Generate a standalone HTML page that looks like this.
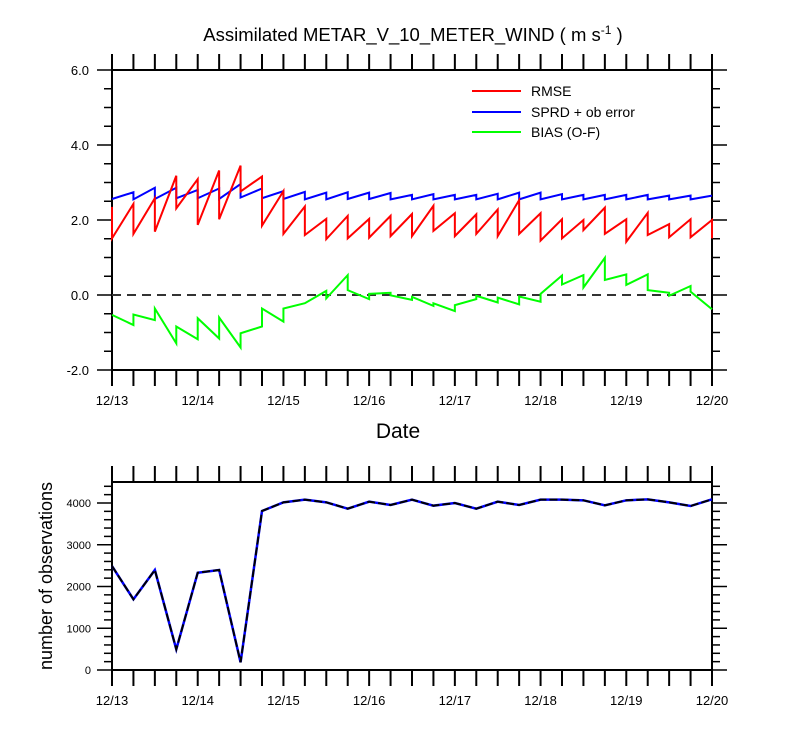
<!DOCTYPE html>
<html><head><meta charset="utf-8"><style>
body{margin:0;background:#fff;font-family:"Liberation Sans",Arial,sans-serif;}
svg text{font-family:"Liberation Sans",Arial,sans-serif;}
</style></head><body>
<svg id="chart" width="800" height="750" xmlns="http://www.w3.org/2000/svg">
<rect width="800" height="750" fill="#fff"/>
<text x="413" y="41" font-size="18.5" text-anchor="middle">Assimilated METAR_V_10_METER_WIND ( m s<tspan font-size="12" dy="-7">-1</tspan><tspan dy="7"> )</tspan></text>
<text x="398" y="438" font-size="21" text-anchor="middle">Date</text>
<text transform="translate(52,576) rotate(-90)" font-size="18" text-anchor="middle">number of observations</text>
<g id="topPanel"></g>
<g id="botPanel"></g>
</svg>
<script>
const dateLabels = ["12/13","12/14","12/15","12/16","12/17","12/18","12/19","12/20"];
const topTicks = ["-2.0","0.0","2.0","4.0","6.0"];
const botTicks = ["0","1000","2000","3000","4000"];
const rmsePrior = [2.35,2.43,2.58,3.18,3.09,3.32,3.45,3.16,2.77,2.36,2.03,2.11,2.03,2.11,2.16,2.38,2.18,2.15,2.28,2.53,2.18,2.02,2.0,2.33,2.02,2.19,1.89,2.02,2.0];
const rmsePost  = [1.51,1.63,1.69,2.31,1.87,2.02,2.76,1.85,1.63,1.6,1.49,1.51,1.53,1.57,1.57,1.71,1.57,1.63,1.57,1.63,1.45,1.51,1.73,1.63,1.42,1.6,1.54,1.54,1.51];
const sprdPrior = [2.56,2.74,2.86,2.86,2.8,2.84,2.96,2.84,2.77,2.75,2.73,2.74,2.73,2.72,2.67,2.69,2.67,2.67,2.7,2.73,2.73,2.69,2.67,2.67,2.67,2.67,2.65,2.65,2.65];
const sprdPost  = [2.56,2.55,2.56,2.58,2.58,2.56,2.6,2.58,2.56,2.55,2.55,2.56,2.56,2.55,2.55,2.55,2.55,2.55,2.55,2.55,2.55,2.55,2.55,2.55,2.55,2.55,2.55,2.55,2.65];
const biasPrior = [-0.53,-0.8,-0.67,-1.29,-1.18,-1.16,-1.4,-0.84,-0.71,-0.22,0.11,0.53,-0.11,0.06,-0.13,-0.29,-0.43,-0.11,-0.2,-0.25,-0.18,0.52,0.53,0.99,0.55,0.55,0.06,0.24,-0.38];
const biasPost  = [-0.53,-0.52,-0.36,-0.84,-0.62,-0.6,-1.02,-0.36,-0.36,-0.22,-0.09,0.13,0.03,-0.01,-0.05,-0.22,-0.27,-0.02,-0.07,-0.04,0.03,0.28,0.2,0.4,0.27,0.13,-0.02,0.09,-0.38];
const obsPossible = [2490,1693,2395,495,2330,2395,184,3808,4016,4080,4016,3864,4032,3952,4080,3936,4000,3864,4032,3952,4080,4080,4064,3944,4064,4088,4016,3928,4088];
const obsUsed     = [2490,1693,2395,495,2330,2395,184,3808,4016,4080,4016,3864,4032,3952,4080,3936,4000,3864,4032,3952,4080,4080,4064,3944,4064,4088,4016,3928,4088];

const NS="http://www.w3.org/2000/svg";
const X0=112,X1=712;
const xs=i=>X0+(X1-X0)*i/28;
const yT=v=>295-v*37.5;
const yB=v=>670-v*0.04175;
function el(parent,tag,attrs){const e=document.createElementNS(NS,tag);for(const k in attrs)e.setAttribute(k,attrs[k]);parent.appendChild(e);return e;}
function line(p,x1,y1,x2,y2,w){return el(p,'line',{x1,y1,x2,y2,stroke:'#000','stroke-width':w||1.5});}

function frame(g,t0,b0,name){
  const r=el(g,'rect',{x:X0,y:t0,width:X1-X0,height:b0-t0,fill:'none',stroke:'#000','stroke-width':2});
  
  
  for(let i=0;i<=28;i++){const x=xs(i);line(g,x,t0,x,t0-16,2);line(g,x,b0,x,b0+16,2);}
  dateLabels.forEach((d,k)=>{const t=el(g,'text',{x:xs(k*4),y:b0+35,'font-size':13,'text-anchor':'middle'});t.textContent=d;
    
    });
}
const topG=document.getElementById('topPanel'), botG=document.getElementById('botPanel');
frame(topG,70,370,'top-plot');
frame(botG,482,670,'bottom-plot');
for(let v=-2;v<=6.001;v+=0.5){const y=yT(v);const maj=Math.abs(v-Math.round(v/2)*2)<1e-6;
  line(topG,X0,y,X0-(maj?15:8),y,1.5);line(topG,X1,y,X1+(maj?15:8),y,1.5);}
topTicks.forEach(s=>{const t=el(topG,'text',{x:89,y:yT(parseFloat(s))+5,'font-size':13,'text-anchor':'end'});t.textContent=s;
  
  });
const zl=el(topG,'line',{x1:X0,y1:yT(0),x2:X1,y2:yT(0),stroke:'#333','stroke-width':2,'stroke-dasharray':'9,6'});


function saw(pr,po,color,name){let d='';for(let i=0;i<pr.length;i++){d+=(i?'L':'M')+xs(i)+' '+yT(pr[i])+'L'+xs(i)+' '+yT(po[i]);}
  const p=el(topG,'path',{d,fill:'none',stroke:color,'stroke-width':2});
  
  }
saw(sprdPrior,sprdPost,'#0000ff','sprd-line');
saw(rmsePrior,rmsePost,'#ff0000','rmse-line');
saw(biasPrior,biasPost,'#00ff00','bias-line');
[["RMSE","#ff0000",91],["SPRD + ob error","#0000ff",112],["BIAS (O-F)","#00ff00",132]].forEach(([s,c,y])=>{
  const g=el(topG,'g',{});
  
  
  el(g,'line',{x1:472,y1:y,x2:521,y2:y,stroke:c,'stroke-width':2});
  const t=el(g,'text',{x:531,y:y+5,'font-size':14});t.textContent=s;});
for(let v=0;v<=4400;v+=200){const y=yB(v);const maj=v%1000===0;
  line(botG,X0,y,X0-(maj?15:8),y,1.5);line(botG,X1,y,X1+(maj?15:8),y,1.5);}
botTicks.forEach(s=>{const t=el(botG,'text',{x:91,y:yB(parseFloat(s))+4,'font-size':11,'text-anchor':'end'});t.textContent=s;
  
  });
function pl(arr,attrs,name){const d=arr.map((v,i)=>(i?'L':'M')+xs(i)+' '+yB(v)).join('');
  const p=el(botG,'path',Object.assign({d,fill:'none'},attrs));
  
  }
pl(obsUsed,{stroke:'#0000ff','stroke-width':2.5},'obs-used-line');
pl(obsPossible,{stroke:'#000','stroke-width':2,'stroke-dasharray':'8,3'},'obs-possible-line');
</script>
</body></html>
